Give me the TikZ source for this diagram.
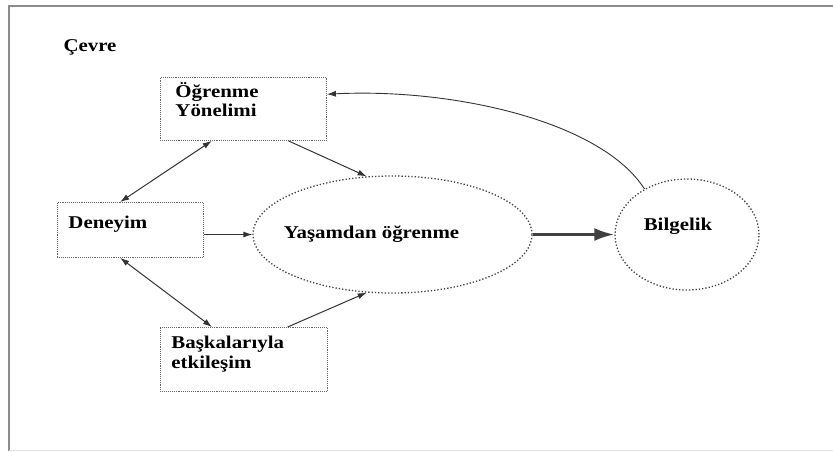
\documentclass[tikz,border=0pt]{standalone}
\usepackage{fontspec}
\setmainfont{Liberation Serif}[FakeStretch=1.16]
\usetikzlibrary{arrows.meta,calc,shapes.geometric}

\newcommand{\yazi}{\fontsize{18}{18.5}\selectfont\bfseries}

\tikzset{
  kutu/.style={draw=black!60, densely dotted, line width=0.9pt, inner sep=0pt, anchor=north west},
  halka/.style={ellipse, draw=black!75, dotted, line width=1.3pt, inner sep=0pt, font=\yazi},
  ok/.style={draw=black!80, line width=1pt, -{Latex[length=9pt,width=6pt]}},
  ciftok/.style={ok, {Latex[length=9pt,width=6pt]}-{Latex[length=9pt,width=6pt]}},
  kalinok/.style={draw=black!75, line width=2.8pt, -{Latex[length=20pt,width=13pt]}},
}

\begin{document}
\begin{tikzpicture}[x=1pt,y=-1pt]
\useasboundingbox (0,0) rectangle (833,451);
% Frame round the picture
\draw[black!45, line width=2pt] (833,6) -- (9,6) -- (9,451);
\draw[black!12, line width=1pt] (9,450) -- (833,450);

\node[anchor=base west, font=\yazi] (cevre) at (60,51) {Çevre};

% The three boxes on the left
\node[kutu, minimum width=166pt, minimum height=63pt] (ogr) at (160,77)
  {\parbox[c][52pt][t]{136pt}{\yazi Öğrenme\\Yönelimi}};
\node[kutu, minimum width=146pt, minimum height=55pt] (den) at (57,202)
  {\parbox[c][27pt][t]{124pt}{\yazi Deneyim}};
\node[kutu, minimum width=167pt, minimum height=64pt] (bas) at (160,327)
  {\parbox[c][46pt][t]{145pt}{\yazi Başkalarıyla\\[1.5pt]etkileşim}};

% The two ellipses
\node[halka, minimum width=279pt, minimum height=117pt] (yas) at (392.5,234.5)
  {\makebox[0pt]{Yaşamdan öğrenme\hspace*{42pt}}};
\node[halka, minimum width=144pt, minimum height=111pt, text height=12pt, text depth=21pt] (bil) at (687,234.5)
  {\makebox[0pt]{Bilgelik\hspace*{18pt}}};

% Arrows
\draw[ciftok] ($(den.north west)!0.43!(den.north east)$) -- ($(ogr.south west)!0.31!(ogr.south east)$);
\draw[ciftok] ($(den.south west)!0.43!(den.south east)$) -- ($(bas.north west)!0.31!(bas.north east)$);
\draw[ok] ($(ogr.south west)!0.77!(ogr.south east)$) -- (yas.114);
\draw[ok] ($(bas.north west)!0.76!(bas.north east)$) -- (yas.-114);
\draw[ok] (den.east |- yas.west) -- (yas.west);
\draw[kalinok] (yas) -- (bil);
% Back from Bilgelik to the top box
\draw[ok, line width=0.9pt] (bil.133) .. controls (600,120) and (450,88) .. (ogr.10);

\end{tikzpicture}
\end{document}
